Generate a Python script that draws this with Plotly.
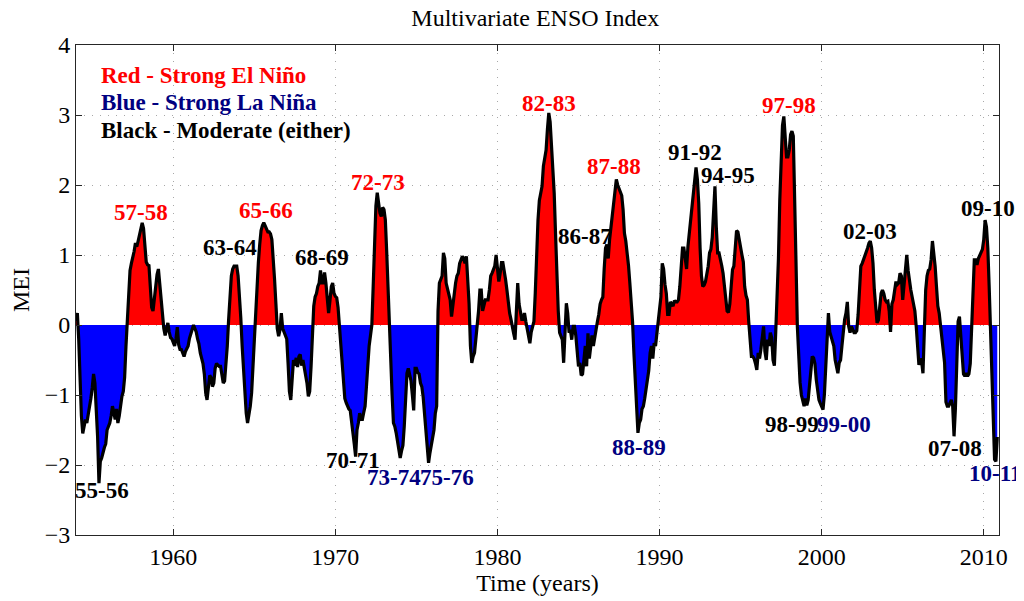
import numpy as np
import plotly.graph_objects as go

# Monthly MEI values, one row per year (Jan..Dec)
start_year = 1954

mei_1950s = [
    0.05, 0.17, -0.2, -0.8, -1.3, -1.55, -1.45, -1.35, -1.4, -1.3, -1.15, -1.05,      # 1954
    -0.9, -0.7, -0.83, -1.2, -1.6, -2.26, -1.95, -1.9, -1.8, -1.75, -1.7, -1.5,       # 1955
    -1.45, -1.4, -1.3, -1.16, -1.25, -1.35, -1.2, -1.4, -1.3, -1.12, -1.02, -0.95,    # 1956
    -0.75, -0.3, 0.1, 0.55, 0.78, 0.88, 0.95, 1.05, 1.17, 1.12, 1.2, 1.3,             # 1957
    1.38, 1.46, 1.38, 1.15, 0.9, 0.86, 0.85, 0.55, 0.25, 0.2, 0.4, 0.6,               # 1958
    0.72, 0.8, 0.6, 0.35, 0.1, -0.05, -0.15, -0.05, 0.03, -0.1, -0.18, -0.2,          # 1959
]

mei_1960s = [
    -0.25, -0.3, -0.2, -0.03, -0.28, -0.35, -0.35, -0.4, -0.45, -0.38, -0.33, -0.3,   # 1960
    -0.19, -0.12, -0.07, 0.0, -0.05, -0.1, -0.2, -0.27, -0.4, -0.48, -0.55, -0.7,     # 1961
    -0.97, -1.07, -0.9, -0.72, -0.75, -0.88, -0.83, -0.62, -0.55, -0.57, -0.59, -0.59,  # 1962
    -0.73, -0.83, -0.8, -0.6, -0.3, 0.08, 0.45, 0.7, 0.8, 0.84, 0.84, 0.84,           # 1963
    0.7, 0.45, 0.1, -0.3, -0.69, -1.0, -1.26, -1.4, -1.3, -1.16, -0.97, -0.6,         # 1964
    -0.25, 0.3, 0.55, 0.89, 1.15, 1.35, 1.42, 1.46, 1.42, 1.37, 1.33, 1.33,           # 1965
    1.3, 1.22, 0.98, 0.65, 0.3, -0.05, -0.16, -0.07, 0.17, -0.05, -0.1, -0.15,        # 1966
    -0.2, -0.55, -0.95, -1.07, -0.83, -0.5, -0.58, -0.47, -0.6, -0.45, -0.42, -0.58,  # 1967
    -0.5, -0.62, -0.7, -0.83, -1.02, -0.95, -0.6, -0.15, 0.27, 0.4, 0.45, 0.55,       # 1968
    0.6, 0.78, 0.6, 0.6, 0.75, 0.6, 0.4, 0.17, 0.35, 0.55, 0.6, 0.45,                 # 1969
]

mei_1970s = [
    0.41, 0.39, 0.25, 0.0, -0.2, -0.45, -0.83, -1.05, -1.11, -1.17, -1.2, -1.22,      # 1970
    -1.36, -1.5, -1.7, -1.88, -1.5, -1.4, -1.26, -1.35, -1.35, -1.25, -1.16, -0.88,   # 1971
    -0.5, -0.3, -0.15, 0.0, 0.55, 1.2, 1.7, 1.89, 1.72, 1.6, 1.55, 1.68,              # 1972
    1.65, 1.5, 1.05, 0.45, 0.0, -0.55, -1.0, -1.4, -1.45, -1.54, -1.65, -1.8,         # 1973
    -1.9, -1.8, -1.72, -1.45, -0.97, -0.69, -0.62, -0.7, -0.8, -1.0, -1.22, -0.62,    # 1974
    -0.62, -0.68, -0.7, -0.83, -0.88, -1.03, -1.25, -1.5, -1.72, -1.97, -1.83, -1.7,  # 1975
    -1.6, -1.5, -1.26, -1.16, 0.2, 0.6, 0.65, 0.7, 1.03, 0.95, 0.6, 0.52,             # 1976
    0.45, 0.36, 0.12, 0.3, 0.45, 0.6, 0.7, 0.74, 0.88, 0.95, 0.98, 0.95,              # 1977
    0.88, 0.98, 0.7, 0.3, -0.3, -0.54, -0.45, -0.4, -0.2, -0.02, 0.2, 0.5,            # 1978
    0.5, 0.2, 0.3, 0.36, 0.36, 0.36, 0.5, 0.7, 0.74, 0.78, 0.84, 1.0,                 # 1979
]

mei_1980s = [
    0.74, 0.62, 0.74, 0.89, 0.89, 0.79, 0.65, 0.5, 0.3, 0.17, 0.08, 0.0,              # 1980
    -0.12, -0.21, 0.27, 0.6, 0.3, 0.15, 0.08, 0.08, 0.17, 0.05, -0.05, -0.15,         # 1981
    -0.26, -0.1, 0.0, 0.05, 0.46, 1.1, 1.5, 1.78, 1.86, 1.98, 2.27, 2.43,             # 1982
    2.5, 2.8, 3.03, 2.9, 2.6, 2.27, 1.88, 1.3, 0.6, 0.2, -0.11, -0.17,                # 1983
    -0.21, -0.54, -0.21, 0.31, 0.17, -0.11, -0.07, -0.21, -0.02, -0.02, -0.15, -0.4,  # 1984
    -0.59, -0.54, -0.72, -0.7, -0.45, -0.3, -0.59, -0.12, -0.48, -0.25, -0.15, -0.3,  # 1985
    -0.16, -0.02, 0.05, 0.15, 0.3, 0.36, 0.4, 0.8, 1.1, 1.15, 0.95, 1.22,             # 1986
    1.41, 1.6, 1.75, 1.89, 2.08, 2.0, 1.95, 1.92, 1.85, 1.65, 1.31, 1.2,              # 1987
    1.05, 0.85, 0.6, 0.36, 0.05, -0.4, -0.8, -1.1, -1.54, -1.4, -1.35, -1.2,          # 1988
    -1.16, -1.05, -0.92, -0.8, -0.65, -0.4, -0.3, -0.48, -0.26, -0.3, -0.12, 0.0,     # 1989
]

mei_1990s = [
    0.15, 0.4, 0.88, 0.8, 0.58, 0.45, 0.15, 0.15, 0.33, 0.3, 0.27, 0.35,              # 1990
    0.33, 0.33, 0.36, 0.55, 0.84, 1.1, 1.1, 0.95, 0.8, 1.12, 1.3, 1.55,               # 1991
    1.7, 1.84, 2.03, 2.25, 2.08, 1.74, 1.1, 0.7, 0.55, 0.57, 0.62, 0.72,              # 1992
    0.84, 1.03, 1.08, 1.25, 1.7, 1.98, 1.4, 1.03, 1.03, 0.95, 0.85, 0.74,             # 1993
    0.55, 0.3, 0.2, 0.18, 0.3, 0.55, 0.79, 0.84, 1.05, 1.35, 1.33, 1.2,               # 1994
    1.1, 1.0, 0.9, 0.55, 0.42, 0.36, 0.05, -0.21, -0.45, -0.45, -0.48, -0.55,         # 1995
    -0.64, -0.4, -0.48, -0.35, -0.2, -0.02, -0.38, -0.5, -0.21, -0.3, -0.11, -0.18,   # 1996
    -0.5, -0.58, -0.1, 0.4, 0.95, 1.79, 2.5, 2.85, 2.98, 2.65, 2.4, 2.4,              # 1997
    2.5, 2.72, 2.77, 2.7, 2.0, 0.9, -0.02, -0.45, -0.82, -1.0, -1.11, -1.16,          # 1998
    -1.05, -1.15, -1.07, -0.88, -0.6, -0.45, -0.47, -0.55, -0.78, -0.97, -1.07, -1.12,  # 1999
]

mei_2000s = [
    -1.17, -1.21, -1.0, -0.6, 0.0, 0.17, -0.1, -0.16, -0.21, -0.3, -0.5, -0.6,        # 2000
    -0.69, -0.54, -0.5, -0.3, -0.05, 0.08, 0.17, 0.33, -0.02, -0.11, -0.02, -0.07,    # 2001
    -0.11, -0.11, -0.08, 0.15, 0.5, 0.84, 0.88, 0.93, 1.0, 1.05, 1.1, 1.17,           # 2002
    1.2, 1.1, 0.88, 0.5, 0.2, 0.03, 0.07, 0.27, 0.45, 0.5, 0.45, 0.36,                # 2003
    0.33, 0.34, 0.2, -0.1, 0.3, 0.36, 0.5, 0.62, 0.58, 0.6, 0.74, 0.7,                # 2004
    0.36, 0.6, 0.85, 1.0, 0.78, 0.6, 0.5, 0.4, 0.3, 0.2, -0.02, -0.3,                 # 2005
    -0.57, -0.48, -0.52, -0.69, -0.15, 0.5, 0.7, 0.78, 0.8, 0.93, 1.2, 1.03,          # 2006
    0.84, 0.55, 0.27, 0.17, -0.02, -0.11, -0.3, -0.54, -1.1, -1.16, -1.16, -1.1,      # 2007
    -1.07, -1.16, -1.59, -1.2, -0.55, 0.05, 0.12, -0.15, -0.5, -0.7, -0.73, -0.69,    # 2008
    -0.73, -0.7, -0.55, -0.1, 0.3, 0.93, 0.93, 0.86, 0.95, 1.0, 1.04, 1.08,           # 2009
]

mei_2010s = [
    1.22, 1.5, 1.4, 1.1, 0.55, -0.1, -0.9, -1.6, -1.92, -1.95, -1.6,                  # 2010
]

# event labels: text, colour group
events = ["55-56", "57-58", "63-64", "65-66", "68-69", "70-71", "72-73", "73-74",
          "75-76", "82-83", "86-87", "87-88", "88-89", "91-92", "94-95", "97-98",
          "98-99", "99-00", "02-03", "07-08", "09-10", "10-11"]
event_kind = ["mod", "elnino", "mod", "elnino", "mod", "mod", "elnino", "lanina",
              "lanina", "elnino", "mod", "elnino", "lanina", "mod", "mod", "elnino",
              "mod", "lanina", "mod", "mod", "mod", "lanina"]
event_x = [1955.6, 1958.0, 1963.5, 1965.7, 1969.2, 1971.1, 1972.6, 1973.6,
           1976.9, 1983.2, 1985.4, 1987.2, 1988.75, 1992.2, 1994.25, 1998.0,
           1998.15, 2001.4, 2003.0, 2008.2, 2010.25, 2010.7]
event_y = [-2.36, 1.61, 1.11, 1.64, 0.97, -1.93, 2.03, -2.18,
           -2.18, 3.16, 1.26, 2.26, -1.75, 2.46, 2.14, 3.14,
           -1.42, -1.42, 1.34, -1.76, 1.67, -2.12]

colors = {"elnino": "#ff0000", "lanina": "#000080", "mod": "#000000"}
serif = "Liberation Serif, Times New Roman, serif"

mei = np.array(mei_1950s + mei_1960s + mei_1970s + mei_1980s + mei_1990s + mei_2000s + mei_2010s)
t = start_year + np.arange(len(mei)) / 12.0

# add zero crossings so the red/blue fills meet cleanly at 0
tt, vv = [t[0]], [mei[0]]
for i in range(1, len(mei)):
    a, b = mei[i - 1], mei[i]
    if a * b < 0:
        tt.append(t[i - 1] + (t[i] - t[i - 1]) * a / (a - b))
        vv.append(0.0)
    tt.append(t[i])
    vv.append(b)
tt, vv = np.array(tt), np.array(vv)

fig = go.Figure()
fig.add_trace(go.Scatter(x=tt, y=np.clip(vv, 0, None), mode="lines", fill="tozeroy",
                         fillcolor="#ff0000", line=dict(width=0), hoverinfo="skip"))
fig.add_trace(go.Scatter(x=tt, y=np.clip(vv, None, 0), mode="lines", fill="tozeroy",
                         fillcolor="#0000ff", line=dict(width=0), hoverinfo="skip"))
fig.add_trace(go.Scatter(x=t, y=mei, mode="lines", line=dict(color="black", width=3.2)))

for txt, kind, x, y in zip(events, event_kind, event_x, event_y):
    fig.add_annotation(x=x, y=y, text="<b>%s</b>" % txt, showarrow=False,
                       font=dict(family=serif, size=23, color=colors[kind]))

key_text = ["Red - Strong El Niño", "Blue - Strong La Niña", "Black - Moderate (either)"]
key_kind = ["elnino", "lanina", "mod"]
for i, (txt, kind) in enumerate(zip(key_text, key_kind)):
    fig.add_annotation(x=1955.4, y=3.57 - 0.395 * i, text="<b>%s</b>" % txt, showarrow=False,
                       xanchor="left", font=dict(family=serif, size=23, color=colors[kind]))

axis_style = dict(showline=True, linecolor="#262626", linewidth=1, mirror="ticks",
                  ticks="inside", ticklen=6, tickcolor="#262626",
                  showgrid=True, gridcolor="#a8a8a8", griddash="1px,7px", gridwidth=1,
                  zeroline=False, tickfont=dict(family=serif, size=24, color="black"))

fig.update_xaxes(range=[1954, 2010.94], tickvals=list(range(1960, 2011, 10)),
                 title=dict(text="Time (years)", font=dict(family=serif, size=24, color="black"),
                            standoff=2),
                 **axis_style)
fig.update_yaxes(range=[-3, 4], dtick=1,
                 title=dict(text="MEI", font=dict(family=serif, size=24, color="black"),
                            standoff=8),
                 **axis_style)

# the page body adds an 8px margin, so the figure is sized and offset to fit the window
fig.update_layout(
    width=1016, height=593,
    margin=dict(l=62, r=25, t=37, b=66),
    paper_bgcolor="white", plot_bgcolor="white",
    showlegend=False,
    title=dict(text="Multivariate ENSO Index", x=0.519, xanchor="center", y=0.983,
               yanchor="middle", font=dict(family=serif, size=24, color="black")),
)

fig.write_html("out.html")
